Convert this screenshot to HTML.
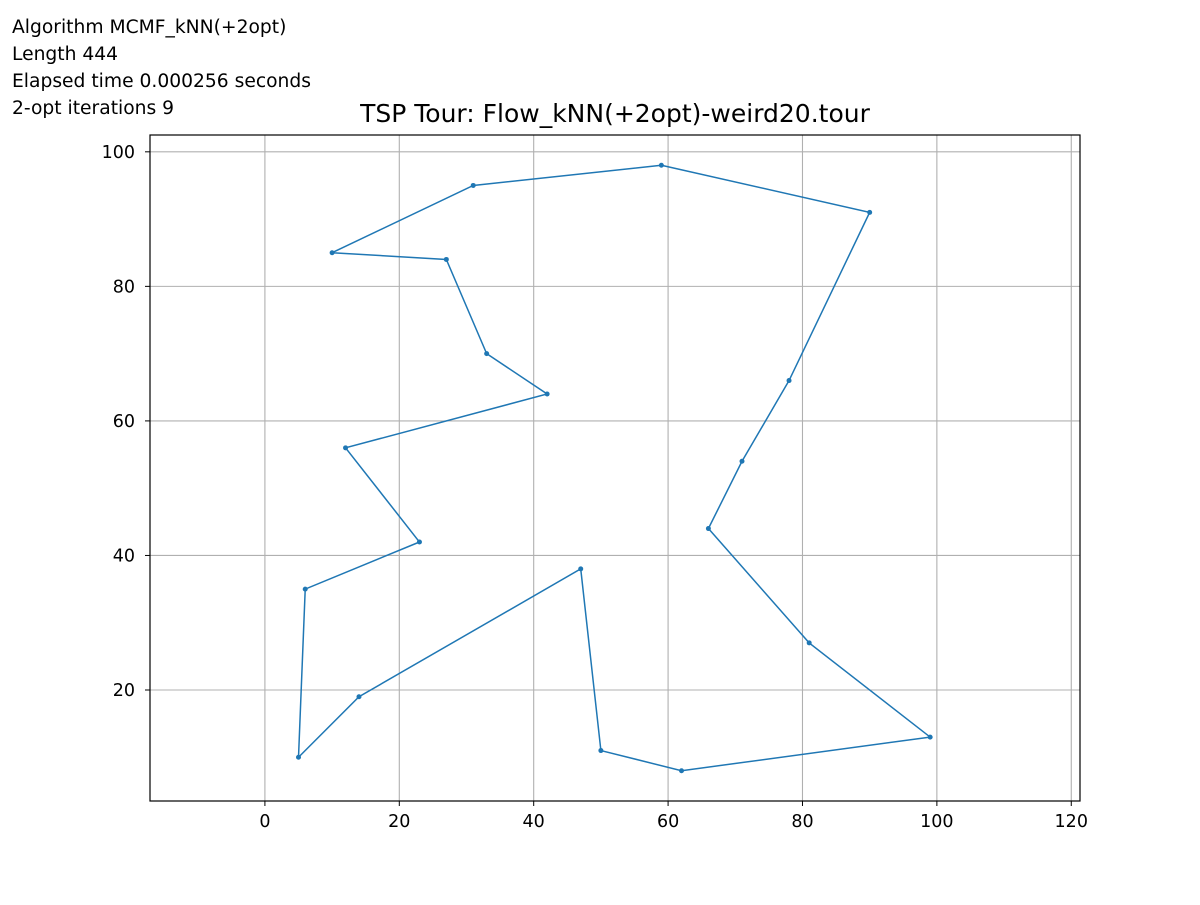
<!DOCTYPE html>
<html><head><meta charset="utf-8"><style>
body{margin:0;background:#fff;}
svg text{font-family:"DejaVu Sans","Liberation Sans",sans-serif;}
</style></head><body>
<svg id="chart" width="1200" height="900" xmlns="http://www.w3.org/2000/svg">
<rect width="1200" height="900" fill="#fff"/>
<g font-size="18.7" fill="#000">
<text x="12" y="33">Algorithm MCMF_kNN(+2opt)</text>
<text x="12" y="60">Length 444</text>
<text x="12" y="87">Elapsed time 0.000256 seconds</text>
<text x="12" y="114">2-opt iterations 9</text>
</g>
<text x="615" y="122" font-size="25" text-anchor="middle">TSP Tour: Flow_kNN(+2opt)-weird20.tour</text>
<g id="grid"></g>
<g id="ticks"></g>
<g id="tour"></g>
<rect x="150" y="135" width="930" height="666" fill="none" stroke="#000" stroke-width="1.2"/>
</svg>
<script>
const xs=[59,90,78,71,66,81,99,62,50,47,14,5,6,23,12,42,33,27,10,31];
const ys=[98,91,66,54,44,27,13,8,11,38,19,10,35,42,56,64,70,84,85,95];
const xTicks=[0,20,40,60,80,100,120];
const yTicks=[20,40,60,80,100];
const L=150,R=1080,T=135,B=801;
const xmin=-17.1,xmax=121.3,ymin=3.5,ymax=102.5;
const sx=v=>L+(v-xmin)/(xmax-xmin)*(R-L);
const sy=v=>B-(v-ymin)/(ymax-ymin)*(B-T);
const NS="http://www.w3.org/2000/svg";
function mk(t,a,p){const e=document.createElementNS(NS,t);for(const k in a)e.setAttribute(k,a[k]);p.appendChild(e);return e;}
const g=document.getElementById('grid'),tk=document.getElementById('ticks'),tr=document.getElementById('tour');
xTicks.forEach(v=>{const x=sx(v);
const l=mk('line',{x1:x,x2:x,y1:T,y2:B,stroke:'#b0b0b0','stroke-width':1.1},g);

mk('line',{x1:x,x2:x,y1:B,y2:B+5,stroke:'#000'},tk);
const t=mk('text',{x:x,y:B+26,'font-size':'17.5','text-anchor':'middle'},tk);t.textContent=v;
});
yTicks.forEach(v=>{const y=sy(v);
const l=mk('line',{x1:L,x2:R,y1:y,y2:y,stroke:'#b0b0b0','stroke-width':1.1},g);

mk('line',{x1:L-5,x2:L,y1:y,y2:y,stroke:'#000'},tk);
const t=mk('text',{x:L-15,y:y+6,'font-size':'17.5','text-anchor':'end'},tk);t.textContent=v;
});
let pts=xs.map((x,i)=>sx(x)+','+sy(ys[i]));pts.push(pts[0]);
const pl=mk('polyline',{points:pts.join(' '),fill:'none',stroke:'#1f77b4','stroke-width':1.5},tr);

xs.forEach((x,i)=>{const c=mk('circle',{cx:sx(x),cy:sy(ys[i]),r:2.5,fill:'#1f77b4'},tr);
});
</script>
</body></html>
